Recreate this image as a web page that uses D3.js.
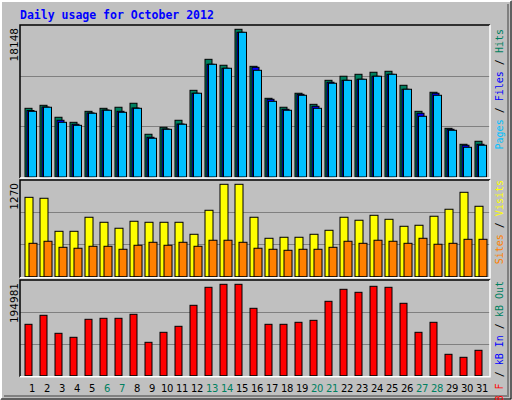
<!DOCTYPE html>
<html><head><meta charset="utf-8">
<script src="https://cdn.jsdelivr.net/npm/d3@7"></script>
<style>body{margin:0;background:#fff}</style>
</head><body><div id="chart"></div>
<script>
const days = d3.range(1, 32);
const weekends = [6, 7, 13, 14, 20, 21, 27, 28];
const hits = [8440,8810,7340,6720,8070,8440,8570,9060,5250,6110,6970,10650,14460,13730,18148,13600,9670,8570,10290,8930,11880,12380,12620,12870,12990,11270,8070,10410,5980,4020,4390];
const files = [8170,8600,6970,6480,7870,8230,8070,8480,4880,5900,6510,10290,13850,13360,17780,13480,9550,8320,10160,8690,11640,11880,12010,12380,12620,10780,7830,10290,5860,3900,4020];
const pages = [8070,8570,6720,6350,7830,8200,7950,8440,4760,5860,6480,10290,13850,13360,17780,13110,9300,8200,10040,8440,11520,11880,12010,12380,12620,10780,7460,10040,5740,3650,3900];
const visits = [1091,1078,624,624,817,748,666,762,748,748,748,583,913,1270,1270,817,528,542,542,583,638,817,776,844,789,693,707,831,927,1160,968];
const sites = [459,487,404,391,418,418,377,432,473,432,473,418,501,501,473,391,377,363,377,377,404,487,459,501,487,459,528,446,459,514,514];
const kbytes = [109640,128840,90440,81910,120310,122440,122440,130970,71240,92570,105370,150170,188580,194981,194981,143770,109640,109640,113910,118130,158700,184300,177900,190700,188580,154440,92570,113910,45650,39250,54180];

const W = 512, H = 400;
const svg = d3.select("#chart").append("svg").attr("width", W).attr("height", H);
svg.append("rect").attr("width", W).attr("height", H).attr("fill", "#c0c0c0");
svg.append("path").attr("d", "M1,399V1H511").attr("stroke", "#fff").attr("stroke-width", 2).attr("fill", "none");
svg.append("path").attr("d", "M1,399H511V1").attr("stroke", "#000").attr("stroke-width", 1).attr("fill", "none");
svg.append("path").attr("d", "M4,396H508V4").attr("stroke", "#808080").attr("stroke-width", 2).attr("fill", "none");

svg.append("text").attr("x", 20).attr("y", 19)
  .attr("font-family", "DejaVu Sans Mono").attr("font-weight", "bold").attr("font-size", 11.5)
  .attr("fill", "#0000ff").text("Daily usage for October 2012");

const x = d3.scaleLinear().domain([1, 31]).range([33, 483]);
const L = 20, R = 490;

function panel(top, bottom, maxTop, maxVal, label, series, legend, legendY) {
  const y = d3.scaleLinear().domain([0, maxVal]).range([bottom, maxTop]);
  const g = svg.append("g");
  [1, 2].forEach(k => {
    const gy = Math.round(bottom - (bottom - top) * k / 3) + 0.5;
    g.append("line").attr("x1", L).attr("x2", R).attr("y1", gy).attr("y2", gy)
      .attr("stroke", "#808080").attr("stroke-width", 1);
  });
  series.forEach(s => {
    g.selectAll(null).data(s.data).join("rect")
      .attr("x", (d, i) => x(days[i]) + s.dx)
      .attr("y", d => y(d))
      .attr("width", s.w)
      .attr("height", d => bottom - y(d))
      .attr("fill", s.color).attr("stroke", "#000").attr("stroke-width", 1);
  });
  g.append("path").attr("d", `M${L},${bottom + 1}V${top}H${R}`).attr("stroke", "#000").attr("fill", "none").attr("stroke-width", 1.5);
  g.append("path").attr("d", `M${L},${bottom + 1}H${R}V${top}`).attr("stroke", "#fff").attr("fill", "none").attr("stroke-width", 1.5);
  g.append("text").attr("transform", `translate(18,${top + 3}) rotate(-90)`)
    .attr("text-anchor", "end").attr("font-family", "DejaVu Sans").attr("font-size", 10.5)
    .attr("fill", "#000").text(label);
  const t = svg.append("text").attr("transform", `translate(503,${legendY}) rotate(-90)`)
    .attr("text-anchor", "end").attr("font-family", "DejaVu Sans Mono").attr("font-size", 10);
  legend.forEach((p, i) => {
    if (i > 0) t.append("tspan").attr("fill", "#000").text(" / ");
    t.append("tspan").attr("fill", p[1]).text(p[0]);
  });
}

panel(25, 177, 29.3, 18148, "18148", [
  { data: hits, dx: -8, w: 7, color: "#008060" },
  { data: files, dx: -6, w: 7, color: "#0000ff" },
  { data: pages, dx: -4.5, w: 8, color: "#00c0ff" }
], [["Pages", "#00c0ff"], ["Files", "#0000ff"], ["Hits", "#008060"]], 29);

panel(180, 276.7, 184.3, 1270, "1270", [
  { data: visits, dx: -8, w: 8, color: "#ffff00" },
  { data: sites, dx: -4, w: 8, color: "#ff8000" }
], [["Sites", "#ff8000"], ["Visits", "#ffff00"]], 180);

panel(280, 375.7, 284.3, 194981, "194981", [
  { data: kbytes, dx: -8, w: 7, color: "#ff0000" }
], [["kB F", "#ff0000"], ["kB In", "#0000ff"], ["kB Out", "#008060"]], 281);

svg.selectAll(".day").data(days).join("text")
  .attr("x", d => x(d) - 1).attr("y", 392)
  .attr("text-anchor", "middle").attr("font-family", "DejaVu Sans").attr("font-size", 10)
  .attr("letter-spacing", -0.3)
  .attr("fill", d => weekends.includes(d) ? "#008060" : "#000").text(d => d);
</script></body></html>
